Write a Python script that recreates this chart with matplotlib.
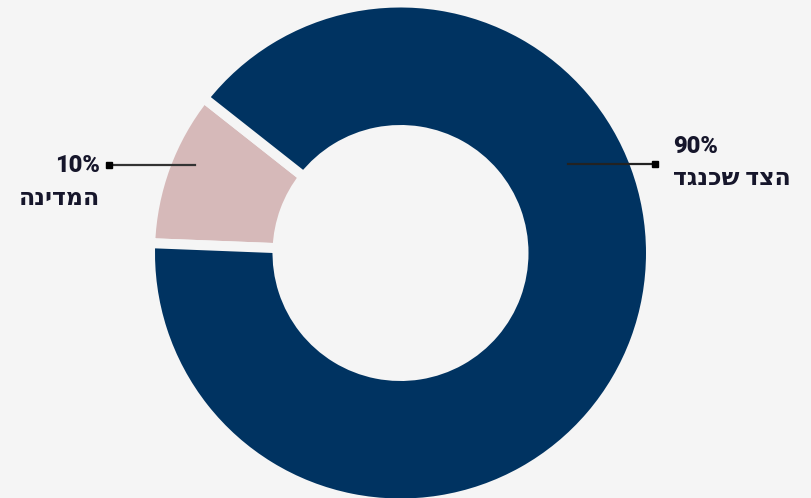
import matplotlib.pyplot as plt

# slice data
labels = ["המדינה", "הצד שכנגד"]
values = [10, 90]
colors = ["#d6b9b9", "#003361"]

BG = "#f5f5f5"
TEXT = "#16162b"
FONT = ["Roboto", "DejaVu Sans"]

fig = plt.figure(figsize=(8.12, 4.98), dpi=100, facecolor=BG)
ax = fig.add_axes([0, 0, 1, 1])
ax.set_facecolor(BG)

# pixel-like data space so the ring sits where we want it
cx, cy = 400.5, 245
gap = 7.2                       # separator width in points (= px * 0.72)
half = gap / 0.72 / 2           # half the stroke, in px
r_out = 245.5 + half
r_in = 128 - half

ax.pie(values, colors=colors, startangle=141.75, counterclock=True,
       center=(cx, cy), radius=r_out,
       wedgeprops=dict(width=r_out - r_in, edgecolor=BG, linewidth=gap))
ax.set_xlim(0, 812)
ax.set_ylim(0, 498)
ax.set_aspect("equal")
ax.axis("off")

# leader lines with square end markers
ax.plot([195, 109], [333, 333], color="#333333", lw=1.6)
ax.plot([109], [333], marker="s", ms=5, color="black")
ax.plot([568, 655], [334, 334], color="#222222", lw=1.6)
ax.plot([655], [334], marker="s", ms=5, color="black")

# hebrew labels are laid out glyph by glyph, so feed them reversed
def draw(s):
    return s[::-1]

# left label
ax.text(100, 333, f"{values[0]}%", ha="right", va="center",
        fontsize=17, fontweight="heavy", color=TEXT, family=FONT)
ax.text(100, 300, draw(labels[0]), ha="right", va="center",
        fontsize=17, fontweight="heavy", color=TEXT, family=FONT)

# right label
ax.text(673, 352, f"{values[1]}%", ha="left", va="center",
        fontsize=17, fontweight="heavy", color=TEXT, family=FONT)
ax.text(673, 320, draw(labels[1]), ha="left", va="center",
        fontsize=17, fontweight="heavy", color=TEXT, family=FONT)

fig.savefig("out.png", dpi=100, facecolor=BG)
